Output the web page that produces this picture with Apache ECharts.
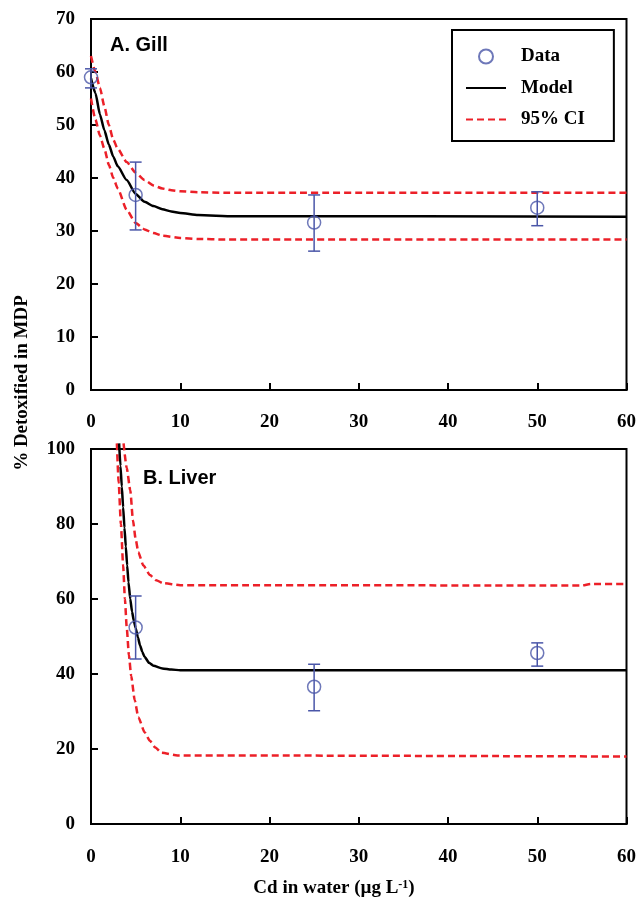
<!DOCTYPE html>
<html>
<head>
<meta charset="utf-8">
<script src="https://cdn.jsdelivr.net/npm/echarts@6/dist/echarts.min.js"></script>
<style>
html,body{margin:0;padding:0;background:#fff;}
#chart{width:639px;height:900px;}
</style>
</head>
<body>
<div id="chart"></div>
<script>
// ---------- data ----------
var xTicks = [0, 10, 20, 30, 40, 50, 60];

// Panel A: Gill
var gillX = [0, 5, 25, 50];
var gillMean = [59.0, 36.8, 31.6, 34.4];
var gillLow = [57.0, 30.2, 26.2, 31.0];
var gillHigh = [60.6, 43.0, 36.8, 37.4];

var gillModelX = [0, 0.5, 1, 1.5, 2, 2.5, 3, 4, 5, 6, 7, 8, 9, 10, 12, 16, 60];
var gillModelY = [58.8, 56.0, 52.0, 49.0, 46.3, 44.0, 42.2, 39.6, 37.0, 35.5, 34.7, 34.1, 33.7, 33.4, 33.0, 32.8, 32.7];
var gillUpperX = [0, 0.5, 1, 1.5, 2, 2.5, 3, 4, 5, 6, 7, 8, 9, 10, 12, 15, 60];
var gillUpperY = [63.0, 60.0, 57.0, 53.5, 50.0, 47.2, 45.5, 43.0, 41.0, 39.6, 38.6, 38.0, 37.7, 37.5, 37.3, 37.2, 37.2];
var gillLowerX = [0, 0.5, 1, 1.5, 2, 2.5, 3, 4, 5, 6, 7, 8, 10, 12, 15, 60];
var gillLowerY = [55.0, 51.0, 48.0, 45.5, 42.5, 40.0, 38.0, 34.0, 31.5, 30.3, 29.6, 29.1, 28.7, 28.5, 28.4, 28.4];

// Panel B: Liver
var liverX = [5, 25, 50];
var liverMean = [52.4, 36.6, 45.6];
var liverLow = [44.0, 30.2, 42.1];
var liverHigh = [60.8, 42.6, 48.3];

var liverModelX = [3.15, 3.3, 3.45, 3.6, 3.75, 3.9, 4.05, 4.2, 4.4, 4.6, 4.8, 5.0, 5.25, 5.5, 5.75, 6.0, 6.5, 7.0, 8.0, 9.0, 10, 60];
var liverModelY = [101.5, 95.5, 90, 84.5, 79, 74, 69, 64.5, 60, 56.6, 54.2, 52.3, 49.8, 47.6, 45.9, 44.6, 43.0, 42.2, 41.5, 41.2, 41.0, 41.0];
var liverUpperX = [3.65, 4.0, 4.4, 4.7, 5.0, 5.3, 5.85, 6.6, 7.3, 8.1, 10, 55, 56, 60];
var liverUpperY = [101.5, 95, 89, 81, 76, 72.5, 69, 66.4, 65.0, 64.2, 63.7, 63.6, 64.0, 64.0];
var liverLowerX = [2.9, 3.1, 3.35, 3.6, 3.8, 4.0, 4.25, 4.5, 4.9, 5.3, 6.0, 6.6, 7.2, 7.9, 9.7, 60];
var liverLowerY = [101.5, 91, 80, 69, 60, 52.5, 45, 39.5, 33, 28.5, 24.5, 22.2, 20.4, 19.0, 18.3, 18.0];

// ---------- helpers ----------
function zip(xs, ys) { return xs.map(function (x, i) { return [x, ys[i]]; }); }
function zip3(xs, lo, hi) { return xs.map(function (x, i) { return [x, lo[i], hi[i]]; }); }

var BLUE = '#4a56a8';
var RED = '#ec2028';
var SERIF = 'Liberation Serif';
var SANS = 'Liberation Sans';

function errorBarRender(params, api) {
  var x = api.value(0);
  var lo = api.coord([x, api.value(1)]);
  var hi = api.coord([x, api.value(2)]);
  var hw = 6;
  var st = { stroke: BLUE, lineWidth: 1.5, fill: null };
  return {
    type: 'group',
    children: [
      { type: 'line', shape: { x1: hi[0], y1: hi[1], x2: lo[0], y2: lo[1] }, style: st },
      { type: 'line', shape: { x1: hi[0] - hw, y1: hi[1], x2: hi[0] + hw, y2: hi[1] }, style: st },
      { type: 'line', shape: { x1: lo[0] - hw, y1: lo[1], x2: lo[0] + hw, y2: lo[1] }, style: st }
    ]
  };
}

var labelFont = { fontFamily: SERIF, fontWeight: 'bold', fontSize: 19, color: '#000' };

function xAxisCfg(gi, margin) {
  return {
    gridIndex: gi, type: 'value', min: 0, max: 60, interval: 10,
    axisLine: { show: true, lineStyle: { color: '#000', width: 2 } },
    axisTick: { show: true, inside: true, length: 7, lineStyle: { color: '#000', width: 2 } },
    axisLabel: Object.assign({ margin: margin, formatter: function (v) { return xTicks.indexOf(v) >= 0 ? String(v) : ''; } }, labelFont),
    splitLine: { show: false }
  };
}
function yAxisCfg(gi, max, interval) {
  return {
    gridIndex: gi, type: 'value', min: 0, max: max, interval: interval,
    axisLine: { show: true, lineStyle: { color: '#000', width: 2 } },
    axisTick: { show: true, inside: true, length: 7, lineStyle: { color: '#000', width: 2 } },
    axisLabel: Object.assign({ margin: 16 }, labelFont),
    splitLine: { show: false }
  };
}

function lineSeries(name, gi, data, color, width, type) {
  return {
    name: name, type: 'line', xAxisIndex: gi, yAxisIndex: gi,
    data: data, symbol: 'none', showSymbol: false, clip: false,
    smooth: 0.2, smoothMonotone: 'x',
    lineStyle: { color: color, width: width, type: type },
    itemStyle: { color: color },
    z: 3
  };
}

var chart = echarts.init(document.getElementById('chart'), null, { renderer: 'canvas' });
chart.setOption({
  animation: false,
  backgroundColor: '#fff',
  title: [
    { text: 'A. Gill', left: 110, top: 35, padding: 0,
      textStyle: { fontFamily: SANS, fontWeight: 'bold', fontSize: 20, color: '#000' } },
    { text: 'B. Liver', left: 143, top: 468, padding: 0,
      textStyle: { fontFamily: SANS, fontWeight: 'bold', fontSize: 20, color: '#000' } }
  ],
  legend: {
    data: [
      { name: 'Data' },
      { name: 'Model', itemStyle: { opacity: 0 } },
      { name: '95% CI', itemStyle: { opacity: 0 } }
    ],
    orient: 'vertical', left: 452, top: 30,
    itemWidth: 40, itemHeight: 14, itemGap: 12.5,
    padding: [17, 29, 12, 13],
    borderColor: '#000', borderWidth: 2, backgroundColor: '#fff',
    textStyle: { fontFamily: SERIF, fontWeight: 'bold', fontSize: 19, color: '#000', padding: [0, 0, 0, 10] },
    selectedMode: false
  },
  grid: [
    { left: 91, top: 19, width: 536, height: 371, show: true, borderColor: '#000', borderWidth: 2, backgroundColor: 'rgba(0,0,0,0)' },
    { left: 91, top: 449, width: 538, height: 375, show: true, borderColor: '#000', borderWidth: 2, backgroundColor: 'rgba(0,0,0,0)' }
  ],
  xAxis: [xAxisCfg(0, 23), xAxisCfg(1, 24)],
  yAxis: [yAxisCfg(0, 70, 10), yAxisCfg(1, 100, 20)],
  graphic: [
    { type: 'text', x: 22, y: 383, rotation: Math.PI / 2,
      style: { text: '% Detoxified in MDP', font: 'bold 19px "Liberation Serif"', fill: '#000', textAlign: 'center', textVerticalAlign: 'middle' } },
    { type: 'text', x: 334, y: 888,
      style: {
        text: '{a|Cd in water (µg L}{b|-1}{a|)}',
        textAlign: 'center', textVerticalAlign: 'middle',
        rich: {
          a: { fontFamily: SERIF, fontWeight: 'bold', fontSize: 19, fill: '#000', verticalAlign: 'bottom' },
          b: { fontFamily: SERIF, fontWeight: 'bold', fontSize: 12, fill: '#000', verticalAlign: 'top' }
        }
      } }
  ],
  series: [
    lineSeries('95% CI', 0, zip(gillUpperX, gillUpperY), RED, 2.5, [7, 4]),
    lineSeries('95% CI', 0, zip(gillLowerX, gillLowerY), RED, 2.5, [7, 4]),
    lineSeries('Model', 0, zip(gillModelX, gillModelY), '#000', 2.5, 'solid'),
    { type: 'custom', xAxisIndex: 0, yAxisIndex: 0, data: zip3(gillX, gillLow, gillHigh),
      renderItem: errorBarRender, z: 4, silent: true },
    { name: 'Data', type: 'scatter', xAxisIndex: 0, yAxisIndex: 0, data: zip(gillX, gillMean),
      symbol: 'circle', symbolSize: 13, clip: false,
      itemStyle: { color: 'rgba(0,0,0,0)', borderColor: BLUE, borderWidth: 1.5 }, z: 5 },

    lineSeries('95% CI', 1, zip(liverUpperX, liverUpperY), RED, 2.5, [7, 4]),
    lineSeries('95% CI', 1, zip(liverLowerX, liverLowerY), RED, 2.5, [7, 4]),
    lineSeries('Model', 1, zip(liverModelX, liverModelY), '#000', 2.5, 'solid'),
    { type: 'custom', xAxisIndex: 1, yAxisIndex: 1, data: zip3(liverX, liverLow, liverHigh),
      renderItem: errorBarRender, z: 4, silent: true },
    { name: 'Data', type: 'scatter', xAxisIndex: 1, yAxisIndex: 1, data: zip(liverX, liverMean),
      symbol: 'circle', symbolSize: 13, clip: false,
      itemStyle: { color: 'rgba(0,0,0,0)', borderColor: BLUE, borderWidth: 1.5 }, z: 5 }
  ]
});
</script>
</body>
</html>
